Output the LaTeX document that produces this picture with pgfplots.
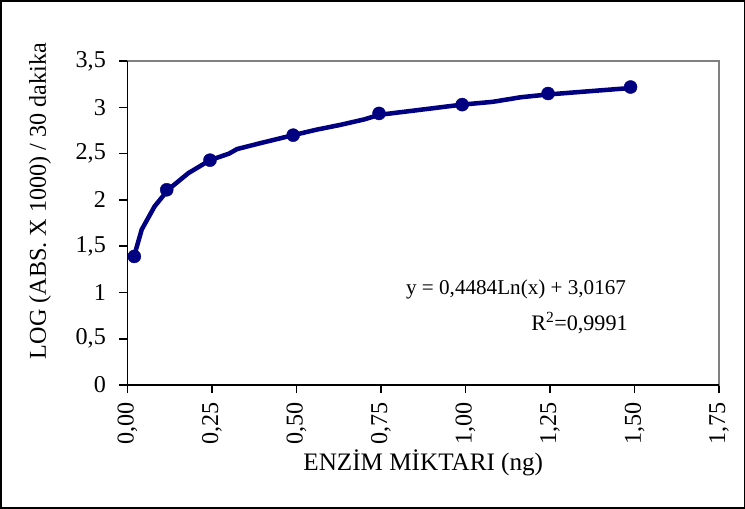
\documentclass[border=0pt]{standalone}
\usepackage{fontspec}
\setmainfont{Liberation Serif}
\usepackage{pgfplots}
\pgfplotsset{compat=1.18}
\definecolor{navy}{RGB}{0,0,128}
\begin{document}
\begin{tikzpicture}
\begin{axis}[scale only axis, width=588pt, height=322pt,
  xmin=0, xmax=1.75, ymin=0, ymax=3.5, clip=false,
  xtick={0,0.25,0.5,0.75,1,1.25,1.5,1.75},
  ytick={0,0.5,1,1.5,2,2.5,3,3.5},
  axis line style={draw=gray, line width=1.5pt},
  tick style={black, line width=1.5pt},
  tick align=outside, major tick length=8pt, tick pos=left,
  xticklabel shift=6pt, yticklabel shift=10pt,
  /pgf/number format/assume math mode=true,
  xticklabel style={font=\fontsize{24}{28}\selectfont, rotate=90, anchor=east,
    /pgf/number format/.cd, fixed, fixed zerofill, precision=2, use comma},
  yticklabel style={font=\fontsize{24}{28}\selectfont,
    /pgf/number format/.cd, fixed, use comma},
  xlabel={ENZİM MİKTARI (ng)}, ylabel={LOG (ABS. X 1000) / 30 dakika},
  xlabel style={font=\fontsize{25}{29}\selectfont, at={(axis description cs:0.5,-0.239)}, anchor=center},
  ylabel style={font=\fontsize{24}{28}\selectfont, at={(axis description cs:-0.148,0.568)}, anchor=center}]
\draw[black, line width=1.5pt] (rel axis cs:0,1) -- (rel axis cs:0,0) -- (rel axis cs:1,0);
% logarithmic trend line as drawn
\addplot[navy, line width=4.5pt, line join=round] coordinates {
(0.02,1.40) (0.042,1.68) (0.08,1.93) (0.12,2.11) (0.18,2.29) (0.244,2.43)
(0.30,2.50) (0.324,2.55) (0.40,2.62) (0.49,2.70) (0.56,2.76) (0.628,2.81)
(0.70,2.87) (0.745,2.92) (0.857,2.97) (0.99,3.03) (1.08,3.06) (1.164,3.11)
(1.245,3.14) (1.35,3.17) (1.49,3.21)};
% measured points
\addplot[only marks, mark=*, mark size=6.5pt, navy] coordinates {
(0.02,1.39) (0.116,2.11) (0.244,2.43) (0.49,2.70) (0.744,2.935)
(0.99,3.03) (1.244,3.15) (1.488,3.22)};
\node[anchor=east, font=\fontsize{21}{25}\selectfont] at (axis cs:1.485,1.03) {y = 0,4484Ln(x) + 3,0167};
\node[anchor=east, font=\fontsize{22}{26}\selectfont] at (axis cs:1.49,0.67) {R\textsuperscript{2}=0,9991};
\end{axis}
\draw[line width=1.5pt] (-126pt,-122pt) rectangle (613pt,382pt);
\end{tikzpicture}
\end{document}
